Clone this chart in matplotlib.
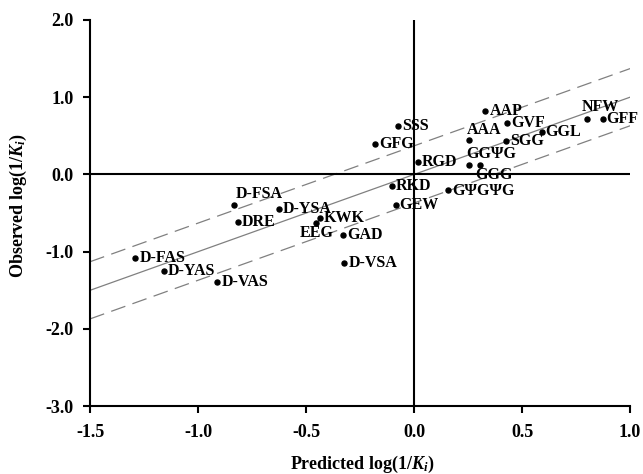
import matplotlib
matplotlib.use("Agg")
import matplotlib.pyplot as plt
import numpy as np

plt.rcParams['font.family'] = ['Liberation Serif', 'DejaVu Serif']
plt.rcParams['font.weight'] = 'bold'
plt.rcParams['mathtext.fontset'] = 'custom'
plt.rcParams['mathtext.rm'] = 'Liberation Serif:bold'
plt.rcParams['mathtext.it'] = 'Liberation Serif:italic:bold'

# Data
names = ["SSS", "GFG", "AAP", "GVF", "AAA", "SGG", "GGL", "NFW", "GFF",
         "GGΨG", "GGG", "RGD", "RKD", "GΨGΨG", "GEW",
         "D-FSA", "D-YSA", "DRE", "KWK", "EEG", "GAD",
         "D-FAS", "D-YAS", "D-VAS", "D-VSA"]
predicted = [-0.073, -0.18, 0.33, 0.43, 0.256, 0.427, 0.59, 0.80, 0.873,
             0.256, 0.304, 0.017, -0.103, 0.159, -0.085,
             -0.832, -0.625, -0.816, -0.437, -0.454, -0.329,
             -1.29, -1.157, -0.91, -0.323]
observed = [0.625, 0.40, 0.82, 0.66, 0.45, 0.435, 0.55, 0.716, 0.716,
            0.125, 0.116, 0.16, -0.15, -0.20, -0.40,
            -0.40, -0.45, -0.61, -0.57, -0.63, -0.78,
            -1.08, -1.25, -1.39, -1.14]
fit_slope = 1.0
fit_intercept = 0.0
band = 0.37
x_ticks = [-1.5, -1.0, -0.5, 0.0, 0.5, 1.0]
x_ticklabels = ["-1.5", "-1.0", "-0.5", "0.0", "0.5", "1.0"]
y_ticks = [-3.0, -2.0, -1.0, 0.0, 1.0, 2.0]
y_ticklabels = ["-3.0", "-2.0", "-1.0", "0.0", "1.0", "2.0"]

# label placement (pixel offsets: dx, dy(up), ha)
label_offsets = {
    "AAA": (-3, 10, 'left'), "GGΨG": (-3, 11, 'left'), "GGG": (-5, -10, 'left'),
    "NFW": (13, 12, 'center'), "D-FSA": (1, 11, 'left'), "EEG": (1, -10, 'center'),
    "GΨGΨG": (4, -1, 'left'),
}

fig = plt.figure(figsize=(6.43, 4.74), dpi=100)
ax = fig.add_axes([0.14, 0.143, 0.84, 0.815])
ax.set_xlim(-1.5, 1.0)
ax.set_ylim(-3.0, 2.0)

xs = np.array([-1.5, 1.0])
ax.plot(xs, fit_slope * xs + fit_intercept, color='#808080', lw=0.9, zorder=1)
ax.plot(xs, fit_slope * xs + fit_intercept + band, color='#808080', lw=0.9,
        dashes=(12, 6), zorder=1)
ax.plot(xs, fit_slope * xs + fit_intercept - band, color='#808080', lw=0.9,
        dashes=(12, 6), zorder=1)

ax.axhline(0, color='black', lw=1.5, zorder=2)
ax.axvline(0, color='black', lw=1.5, zorder=2)

ax.plot(predicted, observed, 'o', color='black', ms=3.6, zorder=3)

for n, px, py in zip(names, predicted, observed):
    dx, dy, ha = label_offsets.get(n, (4, 0, 'left'))
    ax.annotate(n, (px, py), xytext=(dx * 0.72, dy * 0.72), textcoords='offset points',
                ha=ha, va='center', fontsize=11.5, fontweight='bold', zorder=4)

for s in ['top', 'right']:
    ax.spines[s].set_visible(False)
for s in ['left', 'bottom']:
    ax.spines[s].set_linewidth(1.5)

ax.set_xticks(x_ticks)
ax.set_xticklabels(x_ticklabels)
ax.set_yticks(y_ticks)
ax.set_yticklabels(y_ticklabels)
ax.tick_params(direction='out', length=5, width=1.5, labelsize=13)
ax.tick_params(axis='x', pad=8)
ax.tick_params(axis='y', pad=7)
for lab in ax.get_xticklabels() + ax.get_yticklabels():
    lab.set_fontweight('bold')

ax.set_xlabel(r'Predicted log(1/$\mathit{K}_{\mathit{i}}$)', fontsize=13, fontweight='bold', va='center')
ax.set_ylabel(r'Observed log(1/$\mathit{K}_{\mathit{i}}$)', fontsize=13, fontweight='bold', va='center')
ax.xaxis.set_label_coords(0.505, -0.152)
ax.yaxis.set_label_coords(-0.133, 0.52)

fig.savefig('out.png', dpi=100)
